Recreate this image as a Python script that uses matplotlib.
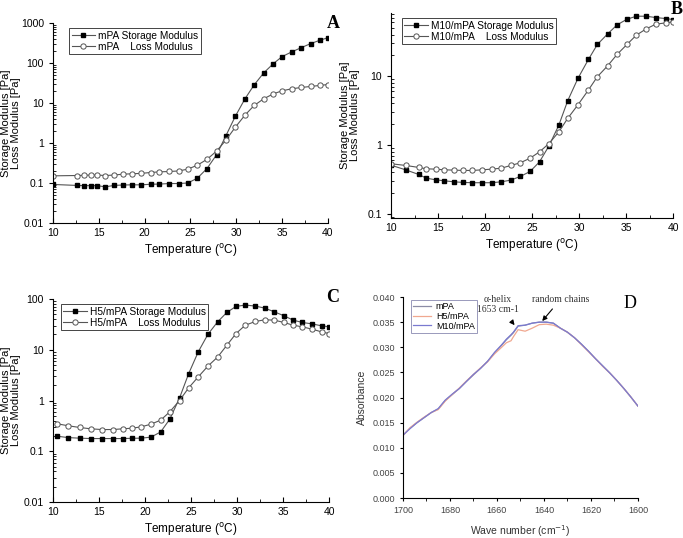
import numpy as np
import matplotlib
matplotlib.use("Agg")
import matplotlib.pyplot as plt
from matplotlib.ticker import MultipleLocator, LogLocator, NullFormatter, FixedLocator, FixedFormatter

plt.rcParams['font.family'] = ['Liberation Sans', 'DejaVu Sans']

# ---- Panel A: mPA ----
temp_a = [10.0, 12.6, 13.35, 14.1, 14.8, 15.7, 16.65, 17.6, 18.6, 19.6, 20.65, 21.6, 22.7, 23.7,
          24.7, 25.75, 26.8, 27.85, 28.85, 29.9, 30.95, 31.95, 33.0, 34.05, 35.0, 36.05, 37.1,
          38.1, 39.1, 40.0]
storage_a = [0.092, 0.087, 0.086, 0.086, 0.086, 0.080, 0.087, 0.089, 0.090, 0.090, 0.093, 0.094,
             0.097, 0.097, 0.100, 0.132, 0.23, 0.51, 1.5, 4.7, 12.8, 28.5, 57, 97, 145, 190, 243,
             305, 370, 430]
loss_a = [0.151, 0.154, 0.156, 0.158, 0.158, 0.154, 0.158, 0.166, 0.170, 0.174, 0.183, 0.190,
          0.194, 0.200, 0.222, 0.279, 0.39, 0.63, 1.17, 2.5, 5.0, 8.7, 12.8, 17.0, 20.2, 22.7,
          24.5, 25.9, 27.5, 29.0]

# ---- Panel B: M10/mPA ----
temp_b = [10.0, 11.55, 12.95, 13.75, 14.75, 15.65, 16.65, 17.65, 18.65, 19.7, 20.7, 21.75, 22.75,
          23.75, 24.8, 25.8, 26.8, 27.85, 28.8, 29.9, 31.0, 31.95, 33.05, 34.05, 35.1, 36.1,
          37.15, 38.15, 39.2, 40.0]
storage_b = [0.51, 0.437, 0.374, 0.331, 0.313, 0.303, 0.293, 0.287, 0.284, 0.284, 0.284, 0.293,
             0.31, 0.35, 0.414, 0.571, 0.97, 1.94, 4.4, 9.35, 17.4, 28.7, 40.9, 55.2, 66.7, 73.7,
             73.7, 70.5, 68.2, 66.0]
loss_b = [0.535, 0.506, 0.473, 0.452, 0.447, 0.437, 0.433, 0.428, 0.428, 0.437, 0.447, 0.462,
          0.506, 0.552, 0.645, 0.797, 1.05, 1.55, 2.44, 3.85, 6.28, 9.78, 14.1, 20.6, 28.7, 39.2,
          48.3, 56.4, 59.0, 61.0]

# ---- Panel C: H5/mPA ----
temp_c = [10.45, 11.65, 12.9, 14.1, 15.3, 16.5, 17.6, 18.6, 19.6, 20.65, 21.7, 22.7, 23.75, 24.75,
          25.8, 26.85, 27.9, 28.9, 29.9, 30.9, 32.0, 33.0, 34.05, 35.1, 36.1, 37.1, 38.15, 39.2,
          40.0]
storage_c = [0.198, 0.186, 0.181, 0.178, 0.178, 0.178, 0.178, 0.180, 0.181, 0.19, 0.24, 0.43,
             1.12, 3.4, 9.2, 20.3, 35.6, 54.5, 71.6, 76.0, 72.6, 66.3, 56.0, 46.8, 38.4, 34.5,
             32.4, 29.6, 28.3]
loss_c = [0.348, 0.318, 0.294, 0.277, 0.268, 0.268, 0.277, 0.285, 0.303, 0.342, 0.41, 0.60,
          1.0, 1.78, 2.94, 4.79, 7.2, 12.3, 20.9, 30.5, 36.1, 38.9, 38.4, 34.5, 30.5, 28.3, 25.5,
          22.5, 20.9]

# ---- Panel D: FTIR ----
wavenumber = [1700, 1697, 1694, 1691, 1688, 1685, 1682, 1679, 1676, 1673, 1670, 1667, 1664, 1661,
              1658, 1656, 1654, 1653, 1651, 1648, 1645, 1642, 1639, 1636, 1633, 1630, 1627, 1624,
              1621, 1618, 1615, 1612, 1609, 1606, 1603, 1600]
abs_mpa = [0.0125, 0.0139, 0.0150, 0.0160, 0.0170, 0.0177, 0.0194, 0.0206, 0.0218, 0.0232, 0.0245,
           0.0258, 0.0272, 0.0289, 0.0304, 0.0315, 0.0324, 0.0329, 0.0342, 0.0344, 0.0348, 0.0350,
           0.0350, 0.0348, 0.0338, 0.0330, 0.0319, 0.0306, 0.0292, 0.0277, 0.0263, 0.0249, 0.0234,
           0.0218, 0.0201, 0.0183]
abs_h5 = [0.0124, 0.0140, 0.0151, 0.0161, 0.0170, 0.0176, 0.0193, 0.0206, 0.0219, 0.0233, 0.0246,
          0.0259, 0.0271, 0.0287, 0.0300, 0.0309, 0.0313, 0.0321, 0.0335, 0.0332, 0.0338, 0.0345,
          0.0346, 0.0344, 0.0338, 0.0330, 0.0319, 0.0305, 0.0291, 0.0277, 0.0262, 0.0249, 0.0234,
          0.0218, 0.0201, 0.0183]
abs_m10 = [0.0125, 0.0138, 0.0150, 0.0160, 0.0170, 0.0178, 0.0195, 0.0207, 0.0218, 0.0232, 0.0246,
           0.0258, 0.0272, 0.0290, 0.0305, 0.0316, 0.0325, 0.0330, 0.0343, 0.0344, 0.0348, 0.0350,
           0.0350, 0.0348, 0.0338, 0.0330, 0.0319, 0.0306, 0.0292, 0.0277, 0.0263, 0.0249, 0.0234,
           0.0218, 0.0201, 0.0183]

fig = plt.figure(figsize=(6.83, 5.38), dpi=100)

line_col = '#555555'


def rheo_panel(rect, temp, storage, loss, name, letter, ylim, yticks, letter_xy, leg_x, ylab_x):
    ax = fig.add_axes(rect)
    ax.plot(temp, storage, '-', color=line_col, lw=0.8, marker='s', ms=3.0,
            mfc='black', mec='black', label=name + ' Storage Modulus')
    ax.plot(temp, loss, '-', color=line_col, lw=0.8, marker='o', ms=3.8,
            mfc='white', mec='#555555', mew=0.7, label=name + '    Loss Modulus')
    ax.set_yscale('log')
    ax.set_xlim(10, 40)
    ax.set_ylim(*ylim)
    ax.spines['top'].set_visible(False)
    ax.spines['right'].set_visible(False)
    ax.xaxis.set_major_locator(MultipleLocator(5))
    ax.xaxis.set_minor_locator(MultipleLocator(2.5))
    ax.yaxis.set_major_locator(FixedLocator(yticks))
    ax.yaxis.set_major_formatter(FixedFormatter([('%g' % v) for v in yticks]))
    ax.yaxis.set_minor_locator(LogLocator(base=10, subs=np.arange(2, 10)))
    ax.yaxis.set_minor_formatter(NullFormatter())
    ax.tick_params(axis='x', which='both', direction='in', labelsize=7.5)
    ax.tick_params(axis='x', which='major', length=3.5)
    ax.tick_params(axis='x', which='minor', length=2)
    ax.tick_params(axis='y', which='major', direction='out', length=3, labelsize=7.5)
    ax.tick_params(axis='y', which='minor', direction='in', length=2)
    ax.set_xlabel('Temperature ($^{\\rm o}$C)', fontsize=8.5, labelpad=3)
    # two-line y label placed by hand, centred on the axes height
    fig.text(ylab_x / 683, rect[1] + rect[3] / 2, 'Storage Modulus [Pa]\nLoss Modulus [Pa]',
             rotation=90, fontsize=8, linespacing=0.95, ha='center', va='center',
             multialignment='center')
    leg = ax.legend(loc='upper left', bbox_to_anchor=(leg_x, 1.0), fontsize=7.3,
                    handlelength=2.3, handletextpad=0.3, borderpad=0.25,
                    labelspacing=0.1, fancybox=False, framealpha=1)
    leg.get_frame().set_edgecolor('#444444')
    leg.get_frame().set_linewidth(0.7)
    fig.text(letter_xy[0], letter_xy[1], letter, fontsize=13, fontweight='bold',
             family='Liberation Serif', ha='center', va='center')
    return ax


rheo_panel([0.0776, 0.5855, 0.4026, 0.3717], temp_a, storage_a, loss_a, 'mPA', 'A',
           (0.01, 1000), [0.01, 0.1, 1, 10, 100, 1000], (333 / 683, 1 - 23 / 538), 0.04, 11)
rheo_panel([0.5725, 0.5948, 0.4129, 0.381], temp_b, storage_b, loss_b, 'M10/mPA', 'B',
           (0.0875, 82), [0.1, 1, 10], (677 / 683, 1 - 10 / 538), 0.02, 350)
rheo_panel([0.0776, 0.0669, 0.4041, 0.3773], temp_c, storage_c, loss_c, 'H5/mPA', 'C',
           (0.01, 100), [0.01, 0.1, 1, 10, 100], (333 / 683, 1 - 298 / 538), 0.01, 11)

# ---- Panel D ----
axd = fig.add_axes([0.590, 0.0743, 0.344, 0.3736])
axd.plot(wavenumber, abs_mpa, color='#8c8ca6', lw=0.9, label='mPA')
axd.plot(wavenumber, abs_h5, color='#f0a890', lw=0.9, label='H5/mPA')
axd.plot(wavenumber, abs_m10, color='#7a7ad0', lw=0.9, label='M10/mPA')
axd.set_xlim(1700, 1600)
axd.set_ylim(0, 0.040)
axd.spines['top'].set_visible(False)
axd.spines['right'].set_visible(False)
axd.xaxis.set_major_locator(MultipleLocator(20))
axd.xaxis.set_minor_locator(MultipleLocator(10))
axd.yaxis.set_major_locator(MultipleLocator(0.005))
axd.yaxis.set_major_formatter(matplotlib.ticker.FormatStrFormatter('%.3f'))
axd.tick_params(which='both', direction='out', labelsize=6.5, length=2.5, labelcolor='#444444')
axd.tick_params(which='minor', length=2)
axd.set_xlabel('Wave number (cm$^{-1}$)', fontsize=7.5, labelpad=6, color='#333333')
axd.set_ylabel('Absorbance', fontsize=7.5, labelpad=4, color='#333333')
legd = axd.legend(loc='upper left', bbox_to_anchor=(0.015, 1.01), fontsize=6.5,
                  handlelength=2.0, handletextpad=0.5, borderpad=0.25, labelspacing=0.1,
                  fancybox=False, framealpha=1)
legd.get_frame().set_edgecolor('#9999bb')
legd.get_frame().set_linewidth(0.7)
axd.annotate('\u03b1-helix\n1653 cm-1', xy=(1652.5, 0.0344), xytext=(1659.5, 0.0385),
             fontsize=7, family='Liberation Serif', ha='center', va='center',
             color='#333333', linespacing=1.1,
             arrowprops=dict(arrowstyle='-|>', color='black', lw=0.8, mutation_scale=7,
                             shrinkA=6))
axd.annotate('random chains', xy=(1641.5, 0.0348), xytext=(1633, 0.0395),
             fontsize=7, family='Liberation Serif', ha='center', va='center',
             color='#333333',
             arrowprops=dict(arrowstyle='-|>', color='black', lw=0.8, mutation_scale=7))
fig.text(630 / 683, 1 - 303 / 538, 'D', fontsize=13, family='Liberation Serif',
         ha='center', va='center')

fig.savefig('out.png', dpi=100)
